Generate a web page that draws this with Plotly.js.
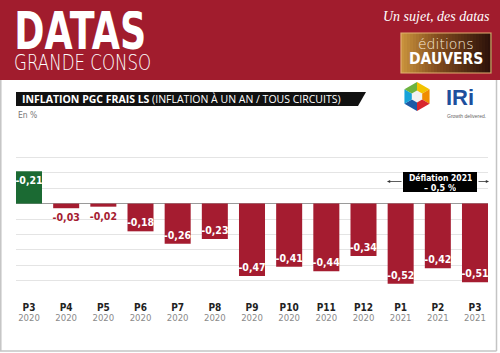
<!DOCTYPE html>
<html><head><meta charset="utf-8">
<script src="https://cdn.plot.ly/plotly-3.0.1.min.js"></script>
<style>html,body{margin:0;padding:0;background:#fff}#c{width:500px;height:353px}</style>
</head><body><div id="c"></div>
<script>
// ---- data ----
const categories = ["P3 2020","P4 2020","P5 2020","P6 2020","P7 2020","P8 2020","P9 2020","P10 2020","P11 2020","P12 2020","P1 2021","P2 2021","P3 2021"];
const periods = ["P3","P4","P5","P6","P7","P8","P9","P10","P11","P12","P1","P2","P3"];
const years = ["2020","2020","2020","2020","2020","2020","2020","2020","2020","2020","2021","2021","2021"];
const inflation = [0.21,-0.03,-0.02,-0.18,-0.26,-0.23,-0.47,-0.41,-0.44,-0.34,-0.52,-0.42,-0.51];
const labels = ["-0,21","-0,03","-0,02","-0,18","-0,26","-0,23","-0,47","-0,41","-0,44","-0,34","-0,52","-0,42","-0,51"];

const RED = "#a51c30", GREEN = "#1b6a33", HEAD = "#a11c2d";
const COND = "'DejaVu Sans Condensed','Liberation Sans Narrow',sans-serif";

// pixel -> paper helpers (plot area 16..488 x 142..296)
const L=16,R=488,T=142,B=296;
const px = x => (x-L)/(R-L);
const py = y => (B-y)/(B-T);

const small = inflation.map(v => Math.abs(v) < 0.1 && v < 0);
const barColors = inflation.map(v => v >= 0 ? GREEN : RED);
const textPos = small.map(s => s ? "outside" : "inside");
const textCol = small.map(s => s ? RED : "#ffffff");

const bars = {
  type: "bar", x: categories, y: inflation,
  marker: {color: barColors, line: {width: 0}},
  width: 0.7,
  text: labels, textposition: textPos, insidetextanchor: "end", textangle: 0,
  constraintext: "none", cliponaxis: false,
  textfont: {family: COND, size: 10.5, color: textCol, weight: "bold"},
  hoverinfo: "skip", showlegend: false
};
// carrier for the year tick labels on the second x axis (draws nothing)
const yearAxis = {type:"scatter", x: categories, y: inflation, xaxis:"x2", mode:"none", hoverinfo:"skip", showlegend:false};

const shapes = [
  {type:"rect", xref:"paper", yref:"paper", x0:px(0), x1:px(500), y0:py(0), y1:py(80), fillcolor:HEAD, line:{width:0}, layer:"below"},
  {type:"line", xref:"paper", yref:"paper", x0:px(0.8), x1:px(0.8), y0:py(80), y1:py(351), line:{color:"#c4c4c4", width:1.5}},
  {type:"line", xref:"paper", yref:"paper", x0:px(0), x1:px(496.5), y0:py(351), y1:py(351), line:{color:"#c4c4c4", width:1.5}},
  {type:"line", xref:"paper", yref:"paper", x0:px(496.5), x1:px(496.5), y0:py(80), y1:py(351), line:{color:"#c4c4c4", width:1.5}},
  {type:"path", xref:"paper", yref:"paper",
   path:`M ${px(16)} ${py(92)} L ${px(366)} ${py(92)} L ${px(358)} ${py(106)} L ${px(16)} ${py(106)} Z`,
   fillcolor:"#111", line:{width:0}},
  {type:"rect", xref:"paper", yref:"paper", x0:px(403), x1:px(477), y0:py(192), y1:py(172), fillcolor:"#000", line:{width:0}},
];

// Dauvers logo box: horizontal gradient made of strips
{
  const x0=401, x1=491, y0=33, y1=73, n=30;
  const c0=[200,146,60], cm=[130,76,30], c1=[45,18,10];
  for (let i=0;i<n;i++){
    const t=i/(n-1);
    const c = t<0.4 ? c0.map((v,k)=>Math.round(v+(cm[k]-v)*(t/0.4))) : cm.map((v,k)=>Math.round(v+(c1[k]-v)*((t-0.4)/0.6)));
    const w=(x1-x0)/n;
    shapes.push({type:"rect", xref:"paper", yref:"paper", x0:px(x0+i*w), x1:px(x0+(i+1)*w+0.6), y0:py(y1), y1:py(y0),
      fillcolor:`rgb(${c[0]},${c[1]},${c[2]})`, line:{width:0}});
  }
  shapes.push({type:"rect", xref:"paper", yref:"paper", x0:px(x0), x1:px(x1), y0:py(y1), y1:py(y0), fillcolor:"rgba(0,0,0,0)", line:{color:"#e2b070", width:1.2}});
}

// IRi hexagon
const cx=417, cy=96.5, r=14.5;
const hexCols = ["#f3c300","#f08c00","#d8262e","#1d5aa6","#16a3d9","#6cb33f"];
for (let i=0;i<6;i++){
  const a1 = (-90 + 60*i)*Math.PI/180, a2 = (-90 + 60*(i+1))*Math.PI/180;
  const p1=[cx+r*Math.cos(a1), cy+r*Math.sin(a1)], p2=[cx+r*Math.cos(a2), cy+r*Math.sin(a2)];
  shapes.push({type:"path", xref:"paper", yref:"paper",
    path:`M ${px(cx)} ${py(cy)} L ${px(p1[0])} ${py(p1[1])} L ${px(p2[0])} ${py(p2[1])} Z`,
    fillcolor:hexCols[i], line:{width:0}});
}
{
  const ri=6; let p="";
  for (let i=0;i<6;i++){const a=(-90+60*i)*Math.PI/180; p+=(i?" L ":"M ")+px(cx+ri*Math.cos(a))+" "+py(cy+ri*Math.sin(a));}
  shapes.push({type:"path", xref:"paper", yref:"paper", path:p+" Z", fillcolor:"#f2f2f2", line:{width:0}});
}

const ann = (x,y,text,opt) => Object.assign({xref:"paper", yref:"paper", x:px(x), y:py(y), text, showarrow:false}, opt||{});
const annotations = [
  ann(80, 31, "DATAS", {xanchor:"center", yanchor:"middle", height:40, borderpad:0, font:{family:"'DejaVu Sans',sans-serif", size:52, color:"#fff", weight:"bold"}}),
  ann(82, 62.5, "GRANDE CONSO", {xanchor:"center", yanchor:"middle", height:17, borderpad:0, font:{family:"'DejaVu Sans',sans-serif", size:22, color:"#fff", weight:200}}),
  ann(492, 17, "<i>Un sujet, des datas</i>", {xanchor:"right", yanchor:"middle", font:{family:"'Liberation Serif',serif", size:14, color:"#fff"}}),
  ann(446, 44, "éditions", {xanchor:"center", yanchor:"middle", height:12, borderpad:0, font:{family:"'DejaVu Sans',sans-serif", size:14, color:"#f6ead8", weight:300}}),
  ann(446, 58.5, "DAUVERS", {xanchor:"center", yanchor:"middle", height:13, borderpad:0, font:{family:COND, size:15.5, color:"#fff", weight:"bold"}}),
  ann(20, 99, "<b>INFLATION PGC FRAIS LS</b> (INFLATION À UN AN / TOUS CIRCUITS)", {xanchor:"left", yanchor:"middle", font:{family:"'Open Sans',sans-serif", size:10.5, color:"#fff"}}),
  ann(16, 115, "En %", {xanchor:"left", yanchor:"middle", font:{family:COND, size:8.5, color:"#777"}}),
  ann(444, 98, "IRi", {xanchor:"left", yanchor:"middle", font:{family:"'Liberation Sans',sans-serif", size:22, color:"#1d4f9d", weight:"bold"}}),
  ann(445, 116, "Growth delivered.", {xanchor:"left", yanchor:"middle", font:{family:"'Liberation Sans',sans-serif", size:5, color:"#666"}}),
  ann(440, 177, "Déflation 2021", {xanchor:"center", yanchor:"middle", borderpad:0, height:9, font:{family:COND, size:8.5, color:"#fff", weight:"bold"}}),
  ann(440, 187, "– 0,5 %", {xanchor:"center", yanchor:"middle", borderpad:0, height:9, font:{family:COND, size:9, color:"#fff", weight:"bold"}}),
  {xref:"paper", yref:"paper", x:px(387), y:py(181.5), ax:16, ay:0, text:"", showarrow:true, arrowhead:2, arrowsize:0.8, arrowwidth:0.8, arrowcolor:"#333"},
  {xref:"paper", yref:"paper", x:px(489), y:py(181.5), ax:-12, ay:0, text:"", showarrow:true, arrowhead:2, arrowsize:0.8, arrowwidth:0.8, arrowcolor:"#333"},
];

const layout = {
  width:500, height:353,
  margin:{l:16, r:12, t:142, b:57, pad:0},
  paper_bgcolor:"#fff", plot_bgcolor:"#fff",
  xaxis:{type:"category", range:[-0.35,12.35], tickvals:categories, ticktext:periods,
         showgrid:false, zeroline:false, showline:false, ticks:"", ticklabelstandoff:4,
         tickfont:{family:COND, size:10, color:"#222", weight:"bold"}, fixedrange:true},
  xaxis2:{overlaying:"x", anchor:"y", side:"bottom", type:"category", range:[-0.35,12.35],
          tickvals:categories, ticktext:years,
          showgrid:false, zeroline:false, showline:false, ticks:"", ticklabelstandoff:14,
          tickfont:{family:COND, size:9.5, color:"#8a8a8a"}},
  yaxis:{range:[-0.6,0.4], dtick:0.1, tick0:0, showticklabels:false, ticks:"",
         showgrid:true, gridcolor:"#e4e4e4", gridwidth:1,
         zeroline:true, zerolinecolor:"#9a9a9a", zerolinewidth:1,
         showline:false, fixedrange:true},
  shapes, annotations
};

Plotly.newPlot("c", [bars, yearAxis], layout, {displayModeBar:false, staticPlot:true}).then(() => {
  const texts = document.querySelectorAll(".annotation-text");
  const fit = {0:132, 1:137};
  Object.keys(fit).forEach(i => {
    const t = texts[i];
    if (t) { t.setAttribute("textLength", fit[i]); t.setAttribute("lengthAdjust", "spacingAndGlyphs"); }
  });
});
</script>
</body></html>
